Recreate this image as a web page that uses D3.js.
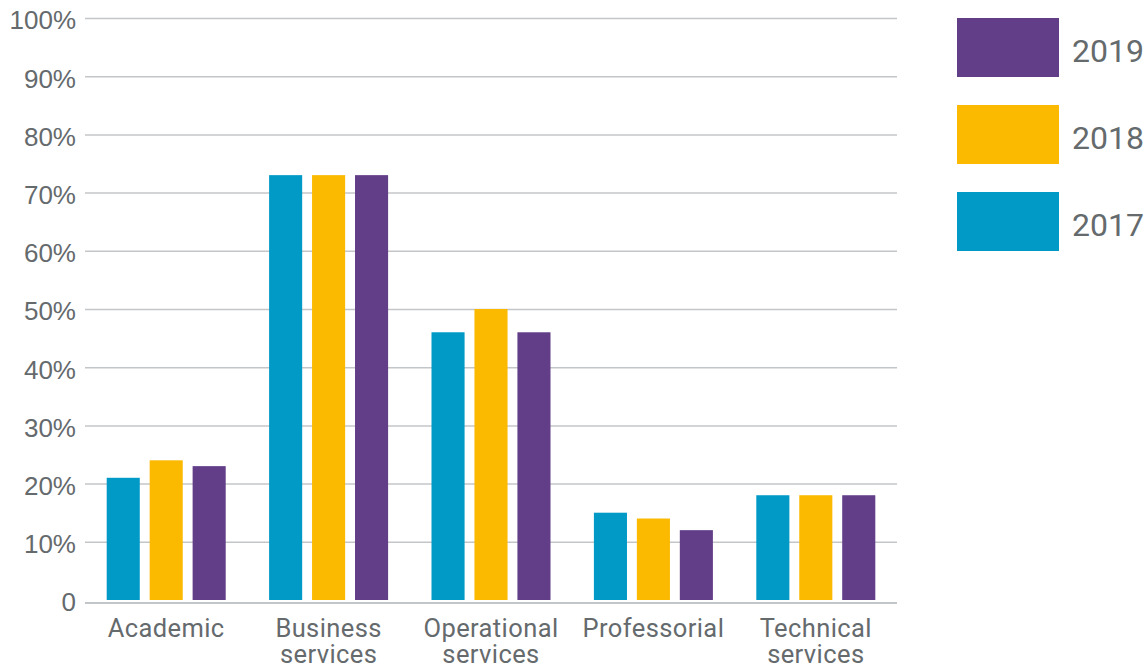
<!DOCTYPE html>
<html>
<head>
<meta charset="utf-8">
<script src="https://cdn.jsdelivr.net/npm/d3@7"></script>
<style>
  html, body { margin: 0; padding: 0; background: #fff; }
  svg { display: block; font-family: Roboto, "Noto Sans", sans-serif; }
</style>
</head>
<body>
<svg id="chart" width="1148" height="668"></svg>
<script>
// Staff groups on the x axis (two-line labels split on "\n")
const categories = ["Academic", "Business\nservices", "Operational\nservices", "Professorial", "Technical\nservices"];
const years = ["2017", "2018", "2019"];
const values2017 = [21, 73, 46, 15, 18];
const values2018 = [24, 73, 50, 14, 18];
const values2019 = [23, 73, 46, 12, 18];
const yTicks = [0, 10, 20, 30, 40, 50, 60, 70, 80, 90, 100];
const colors = ["#019ac6", "#fbb900", "#623d88"];

const series = [values2017, values2018, values2019];

const svg = d3.select("#chart");
const textColor = "#656a6d";
const gridColor = "#c3c6c9";

const x0 = d3.scaleBand().domain(categories).range([85, 897]).paddingInner(0).paddingOuter(0);
const groupWidth = 119;
const x1 = d3.scaleBand().domain(years).range([-groupWidth / 2, groupWidth / 2]).paddingInner(0.23).paddingOuter(0);
const y = d3.scaleLinear().domain([0, 100]).range([600, 18]);

// Horizontal gridlines with percentage labels
const yAxis = d3.axisLeft(y)
  .tickValues(yTicks)
  .tickSize(-(897 - 85))
  .tickPadding(9)
  .tickFormat(d => d === 0 ? "0" : d + "%");

const gy = svg.append("g").attr("transform", "translate(85,0)").call(yAxis);
gy.select(".domain").remove();
gy.selectAll(".tick line")
  .attr("stroke", gridColor)
  .attr("stroke-width", 1.5);
gy.selectAll(".tick text")
  .attr("fill", textColor)
  .attr("font-size", 26)
  .attr("dy", "0.42em")
  .attr("x", -9);
// baseline sits just beneath the bars
gy.selectAll(".tick").filter(d => d === 0).select("line")
  .attr("y1", 2.5).attr("y2", 2.5).attr("stroke-width", 2);

// Bars
const groups = svg.append("g").selectAll("g")
  .data(categories)
  .join("g")
  .attr("transform", d => `translate(${x0(d) + x0.bandwidth() / 2},0)`);

groups.selectAll("rect")
  .data((d, i) => years.map((yr, j) => ({ yr, v: series[j][i], c: colors[j] })))
  .join("rect")
  .attr("x", d => x1(d.yr))
  .attr("width", x1.bandwidth())
  .attr("y", d => y(d.v))
  .attr("height", d => y(0) - y(d.v))
  .attr("fill", d => d.c);

// Category labels
const xl = svg.append("g").selectAll("text")
  .data(categories)
  .join("text")
  .attr("x", d => x0(d) + x0.bandwidth() / 2)
  .attr("y", 637)
  .attr("text-anchor", "middle")
  .attr("fill", textColor)
  .attr("font-size", 25.5)
  .style("letter-spacing", "0.4px");
xl.each(function (d) {
  const t = d3.select(this);
  d.split("\n").forEach((line, i) => {
    t.append("tspan")
      .attr("x", x0(d) + x0.bandwidth() / 2)
      .attr("dy", i === 0 ? 0 : 26)
      .text(line);
  });
});

// Legend, newest year on top
const legendYears = years.slice().reverse();
const legend = svg.append("g").selectAll("g")
  .data(legendYears)
  .join("g")
  .attr("transform", (d, i) => `translate(957,${18 + i * 87})`);
legend.append("rect")
  .attr("width", 102)
  .attr("height", 59)
  .attr("fill", d => colors[years.indexOf(d)]);
legend.append("text")
  .attr("x", 115)
  .attr("y", 44)
  .attr("fill", textColor)
  .attr("font-size", 32)
  .text(d => d);
</script>
</body>
</html>
